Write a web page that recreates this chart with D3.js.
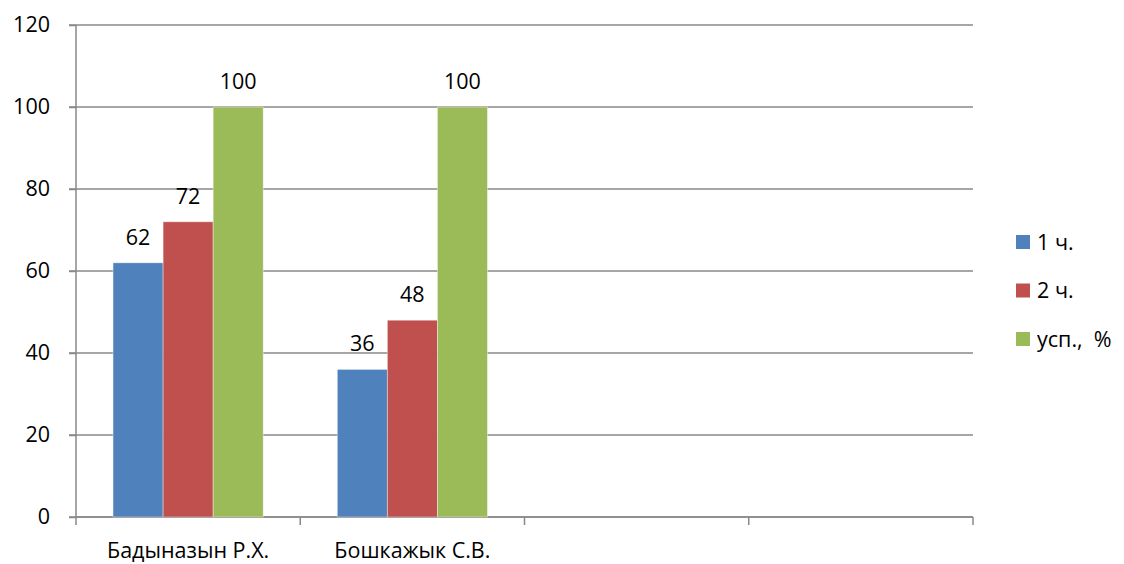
<!DOCTYPE html>
<html><head><meta charset="utf-8">
<script src="https://cdn.jsdelivr.net/npm/d3@7"></script>
<style>body{margin:0;background:#fff}svg{display:block}text{font-family:"Open Sans",sans-serif;fill:#000}</style>
</head><body><svg id="c" width="1124" height="564"></svg>
<script>
const categories = ["Бадыназын Р.Х.", "Бошкажык С.В.", "", " "];
const seriesNames = ["1 ч.", "2 ч.", "усп.,  %"];
const seriesColors = ["#4F81BD", "#C0504D", "#9BBB59"];
const s1 = [62, 36, null, null];
const s2 = [72, 48, null, null];
const s3 = [100, 100, null, null];
const yTicks = [0, 20, 40, 60, 80, 100, 120];

const series = [s1, s2, s3];
const svg = d3.select("#c");
const L = 76, R = 973, T = 25, B = 517;
const FS = "21.5px";
const x = d3.scaleBand().domain(categories).range([L, R]).paddingInner(0).paddingOuter(0);
const xi = d3.scaleBand().domain(d3.range(series.length)).range([0, x.bandwidth()]).paddingInner(0).paddingOuter(0.74);
const y = d3.scaleLinear().domain([0, 120]).range([B, T]);
const grid = "#888";

// gridlines
svg.append("g").selectAll("line").data(yTicks).join("line")
  .attr("x1", L - 7).attr("x2", R).attr("y1", d => y(d)).attr("y2", d => y(d))
  .attr("stroke", grid).attr("stroke-width", 1.5);

// y axis
const ya = svg.append("g").attr("transform", `translate(${L},0)`)
  .call(d3.axisLeft(y).tickValues(yTicks).tickSize(7).tickPadding(19));
ya.select(".domain").attr("stroke", grid).attr("stroke-width", 1.5).attr("d", `M0,${T}V${B}`);
ya.selectAll(".tick line").attr("stroke", grid).attr("stroke-width", 1.5);
ya.selectAll("text").style("font-size", FS).attr("fill", "#000");

// x axis
const xa = svg.append("g").attr("transform", `translate(0,${B})`);
xa.append("line").attr("x1", L).attr("x2", R).attr("stroke", grid).attr("stroke-width", 1.5);
const bounds = categories.map(c => x(c)).concat([x(categories[categories.length-1]) + x.bandwidth()]);
xa.selectAll("line.t").data(bounds).join("line").attr("class", "t")
  .attr("x1", d => d).attr("x2", d => d).attr("y1", 0).attr("y2", 8)
  .attr("stroke", grid).attr("stroke-width", 1.5);
xa.selectAll("text").data(categories).join("text")
  .attr("x", d => x(d) + x.bandwidth() / 2).attr("y", 41)
  .attr("text-anchor", "middle").style("font-size", FS).text(d => d.trim());

// bars
categories.forEach((c, ci) => {
  series.forEach((s, si) => {
    const v = s[ci];
    if (v == null) return;
    const bx = x(c) + xi(si);
    svg.append("rect").attr("x", bx).attr("y", y(v)).attr("width", xi.bandwidth())
      .attr("height", y(0) - y(v)).attr("fill", seriesColors[si])
      .attr("stroke", "rgba(255,255,255,0.5)").attr("stroke-width", 0.8);
    svg.append("text").attr("x", bx + xi.bandwidth() / 2).attr("y", y(v) - 18)
      .attr("text-anchor", "middle").style("font-size", FS).text(v);
  });
});

// legend
const lg = svg.append("g");
seriesNames.forEach((n, i) => {
  const cy = 242 + i * 48.5;
  lg.append("rect").attr("x", 1016).attr("y", cy - 7).attr("width", 14).attr("height", 14).attr("fill", seriesColors[i]);
  lg.append("text").attr("x", 1037).attr("y", cy + 7.5).style("font-size", FS).attr("xml:space", "preserve").text(n);
});
</script></body></html>
